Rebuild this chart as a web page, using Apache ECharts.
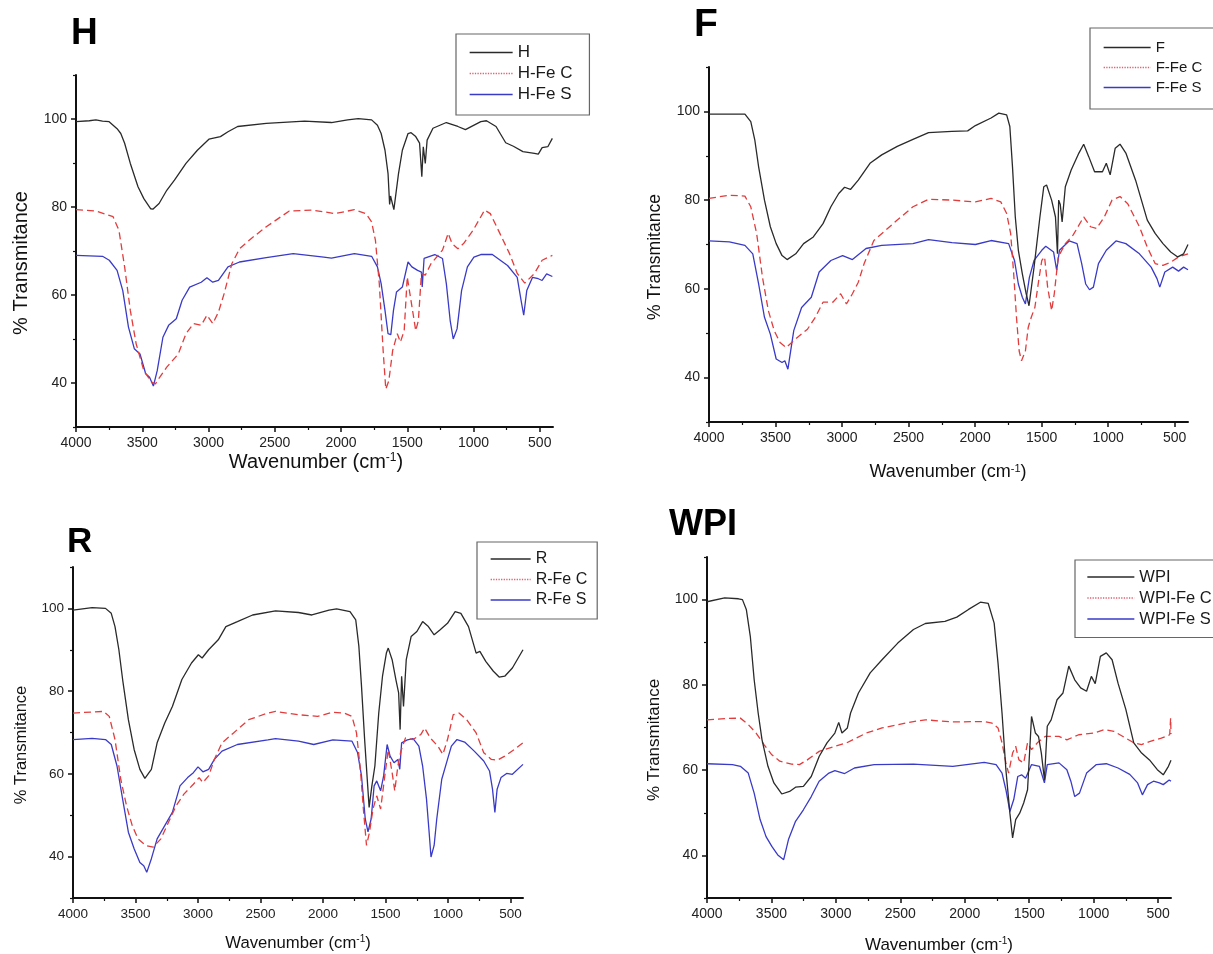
<!DOCTYPE html>
<html>
<head>
<meta charset="utf-8">
<script src="https://cdn.jsdelivr.net/npm/echarts@6/dist/echarts.min.js"></script>
<style>
  html, body { margin: 0; padding: 0; background: #ffffff; }
  #chart { width: 1213px; height: 954px; }
</style>
</head>
<body>
<div id="chart"></div>
<script>
// ---------- Data (wavenumber cm-1, % transmittance) ----------
const xTickLabels = [500, 1000, 1500, 2000, 2500, 3000, 3500, 4000];
const xMinorTicks = [750, 1250, 1750, 2250, 2750, 3250, 3750];
const yTickLabels = [40, 60, 80, 100];
const yMinorTicks = [30, 50, 70, 90, 110];

const H_H = [[4000,99.4],[3900,99.6],[3850,99.8],[3800,99.5],[3750,99.4],[3720,98.6],[3690,97.8],[3662,96.7],[3633,94.5],[3590,89.9],[3532,84.6],[3488,81.9],[3436,79.6],[3420,79.5],[3373,80.8],[3315,83.8],[3257,86.1],[3170,89.9],[3084,92.9],[2997,95.4],[2910,96],[2853,97.1],[2780,98.3],[2564,99],[2275,99.5],[2072,99.2],[1950,99.8],[1870,100.1],[1769,99.8],[1725,98.6],[1697,96.7],[1668,92.9],[1645,87.6],[1633,80.6],[1626,82.5],[1601,79.4],[1566,87.6],[1537,92.9],[1494,96.7],[1471,96.9],[1436,96],[1407,94.5],[1390,86.9],[1379,93.7],[1364,89.9],[1350,95.2],[1306,97.9],[1205,99.2],[1118,98.3],[1061,97.6],[945,99.4],[902,99.6],[830,98.3],[757,94.6],[699,93.8],[627,92.6],[540,92.2],[511,92],[482,93.5],[439,93.7],[405,95.6]];
const H_C = [[4000,79.4],[3850,79.1],[3750,78.1],[3720,77.8],[3676,74.7],[3633,66.4],[3590,56.5],[3546,48.9],[3488,42.8],[3430,40.2],[3400,39.8],[3387,40.5],[3315,43.6],[3228,46.6],[3170,51.2],[3113,53.5],[3055,53.1],[3012,55.4],[2968,53.5],[2925,56.1],[2882,60.3],[2824,67.1],[2766,70.5],[2679,72.8],[2564,75.5],[2390,79.1],[2217,79.3],[2043,78.5],[1899,79.4],[1812,78.5],[1769,76.6],[1740,72.4],[1711,62.6],[1682,47.4],[1662,38.6],[1639,40.5],[1610,47.4],[1575,51.2],[1552,49.3],[1523,51.9],[1500,64.1],[1480,60.3],[1460,56.5],[1436,51.9],[1416,54.2],[1393,64.9],[1364,64.5],[1321,67.1],[1234,70.2],[1191,74],[1162,71.7],[1118,70.5],[1075,71.7],[1003,74.7],[916,79.3],[873,78.5],[801,74],[728,69.4],[670,64.9],[613,62.7],[540,64.9],[482,67.9],[405,69]];
const H_S = [[4000,69],[3800,68.8],[3749,67.9],[3690,65.6],[3647,61],[3604,52.7],[3560,47.8],[3517,46.6],[3474,42.1],[3445,41.3],[3416,39.3],[3387,42.8],[3344,50.4],[3301,53.1],[3243,54.6],[3199,58.8],[3142,61.8],[3055,62.9],[3012,63.9],[2968,62.9],[2925,63.3],[2853,66.4],[2766,67.5],[2564,68.5],[2361,69.4],[2130,68.6],[2072,68.4],[1899,69.4],[1769,68.8],[1725,66.4],[1697,62.6],[1668,56.5],[1645,51.2],[1624,51],[1604,56.5],[1581,60.7],[1537,61.8],[1494,67.5],[1465,66.4],[1422,65.6],[1393,65.2],[1387,61.8],[1373,68.3],[1292,69.2],[1234,68.3],[1205,62.6],[1176,54.2],[1153,50],[1124,52.3],[1090,61],[1046,66.4],[997,68.6],[945,69.2],[858,69.2],[743,66.7],[670,64],[641,58.8],[621,55.4],[598,61],[555,64],[511,63.7],[482,63.3],[448,64.8],[405,64.2]];

const F_F = [[4000,99.4],[3730,99.4],[3686,97.7],[3656,93.6],[3627,87.5],[3583,80],[3539,74],[3495,70.2],[3451,67.5],[3413,66.6],[3348,67.9],[3289,70.2],[3216,71.7],[3143,74.7],[3084,78.5],[3025,81.5],[2981,82.9],[2937,82.4],[2878,84.5],[2790,88.3],[2702,90.2],[2585,92.1],[2467,93.7],[2350,95.2],[2174,95.5],[2056,95.6],[1998,96.8],[1880,98.5],[1822,99.6],[1763,99.2],[1739,96.6],[1719,87.5],[1698,76.2],[1675,68.7],[1645,63.4],[1616,58.9],[1595,56.2],[1557,64.9],[1513,76.2],[1484,83],[1463,83.4],[1425,80],[1396,76.2],[1381,67.9],[1372,80],[1360,79],[1346,75.1],[1322,83],[1278,86.8],[1220,90.6],[1184,92.6],[1146,89.8],[1102,86.4],[1043,86.4],[1014,88.3],[985,85.7],[947,91.7],[911,92.6],[867,90.6],[794,84.5],[706,75.5],[647,72.5],[588,70.2],[530,68.3],[477,67.2],[433,67.9],[400,70]];
const F_C = [[4000,80.4],[3847,81.1],[3730,80.9],[3686,78.5],[3642,72.5],[3598,62.6],[3554,55.1],[3510,50.6],[3466,47.9],[3420,46.8],[3334,49.1],[3260,50.9],[3201,53.6],[3143,57],[3069,57],[3011,58.9],[2967,56.6],[2922,58.9],[2878,61.5],[2834,65.7],[2761,70.9],[2673,73.2],[2585,75.5],[2467,78.5],[2350,80.2],[2174,80],[1998,79.6],[1880,80.4],[1807,79.6],[1763,77],[1733,72.5],[1710,63.4],[1689,53.6],[1669,46],[1651,43.8],[1622,46],[1601,51.3],[1578,53.6],[1551,55.8],[1522,61.9],[1499,66.4],[1478,67.2],[1455,60.4],[1425,55.1],[1405,58.9],[1375,67.2],[1322,70.2],[1264,72.1],[1184,76.2],[1132,74],[1087,73.6],[1029,76.2],[971,80],[911,80.8],[853,79.2],[765,74],[706,69.4],[647,65.7],[588,65.3],[530,66],[471,67.2],[400,67.9]];
const F_S = [[4000,70.8],[3847,70.6],[3730,69.8],[3671,67.9],[3627,61.1],[3583,53.6],[3539,49.8],[3495,44.2],[3451,43.4],[3430,43.8],[3407,41.9],[3363,50.6],[3304,55.8],[3231,58.1],[3172,63.8],[3084,66.4],[2996,67.5],[2922,66.6],[2820,69.1],[2702,69.8],[2467,70.2],[2350,71.1],[2174,70.4],[1998,70],[1880,70.9],[1748,70.2],[1704,66.4],[1675,61.1],[1645,58.1],[1622,56.6],[1592,62.6],[1557,66.4],[1499,68.7],[1469,69.6],[1410,68.3],[1387,64.2],[1366,68.7],[1293,70.8],[1234,70.2],[1199,65.7],[1169,61.1],[1140,59.8],[1111,60.4],[1073,65.7],[1014,68.7],[941,70.8],[867,70.2],[765,67.9],[677,64.9],[633,62.3],[612,60.4],[574,63.8],[515,64.9],[471,64],[433,64.9],[400,64.3]];

const R_R = [[4000,99.6],[3847,100.2],[3740,100],[3694,98.8],[3664,95.6],[3633,90],[3603,82.8],[3557,73.1],[3511,65.9],[3465,61.1],[3425,58.9],[3373,61.1],[3327,67.5],[3266,72.3],[3205,76.3],[3129,82.8],[3052,86.8],[2997,88.8],[2967,88],[2915,90],[2838,92.4],[2777,95.6],[2685,96.8],[2563,98.4],[2380,99.4],[2196,99],[2089,98.4],[2074,98],[1952,99.6],[1891,99.9],[1784,99.2],[1738,97.2],[1713,90.8],[1692,81.2],[1667,68.3],[1646,58.7],[1631,51.9],[1609,57.1],[1585,61.9],[1554,74.7],[1524,83.6],[1493,89.2],[1478,90.4],[1447,87.6],[1417,82.8],[1395,79.6],[1383,70.7],[1371,83.6],[1356,76.3],[1334,87.6],[1295,93.2],[1249,94.4],[1203,96.8],[1157,95.6],[1111,93.6],[1065,94.8],[1004,96.4],[943,99.2],[897,98.8],[836,95.6],[775,89.2],[745,89.6],[698,87.2],[637,84.8],[591,83.4],[546,83.6],[485,85.6],[400,90]];
const R_C = [[4000,74.7],[3755,75.1],[3710,73.9],[3664,68.3],[3618,58.7],[3572,52.3],[3526,47.5],[3480,44.3],[3419,42.7],[3358,42.3],[3297,44.3],[3236,48.3],[3175,52.3],[3113,55.1],[3037,57.5],[2991,59.1],[2961,57.9],[2915,59.5],[2869,63.5],[2808,67.5],[2716,69.9],[2594,73.1],[2441,74.7],[2380,75.1],[2196,74.3],[2043,73.9],[1921,74.9],[1829,74.7],[1768,73.9],[1732,69.9],[1701,61.1],[1677,51.5],[1652,42.7],[1628,45.9],[1600,51.5],[1570,54.7],[1539,51.5],[1509,58.7],[1478,65.9],[1447,60.3],[1426,55.9],[1401,61.9],[1377,65.5],[1340,68.7],[1279,68.3],[1218,69.5],[1187,71.1],[1142,68.7],[1081,66.7],[1041,64.7],[1004,68.3],[958,74.3],[912,74.7],[851,73.1],[775,69.9],[714,65.1],[653,63.5],[607,63.3],[546,64.3],[470,65.9],[400,67.5]];
const R_S = [[4000,68.3],[3847,68.6],[3740,68.3],[3694,67.1],[3648,61.9],[3603,53.9],[3557,45.9],[3511,41.9],[3465,38.6],[3434,37.8],[3410,36.2],[3373,39.5],[3327,44.3],[3266,47.5],[3205,50.7],[3144,57.1],[3083,59.1],[3037,60.3],[3000,61.7],[2961,60.5],[2915,61.1],[2869,63.5],[2808,65.5],[2685,67.1],[2441,68.2],[2380,68.5],[2196,67.9],[2074,67.1],[1921,68.2],[1768,67.9],[1723,65.1],[1692,59.5],[1662,49.1],[1640,46],[1615,49.1],[1591,57.1],[1570,58.3],[1539,55.9],[1515,59.5],[1487,67.1],[1463,64.3],[1432,62.7],[1401,63.5],[1386,61.1],[1371,67.5],[1325,68.2],[1279,68.5],[1233,66.7],[1203,61.9],[1172,53.9],[1151,45.9],[1136,39.9],[1111,42.7],[1090,49.1],[1050,58.7],[1004,63.5],[973,66.7],[928,68.3],[867,67.7],[790,65.5],[714,63.1],[668,60.7],[644,56.3],[625,50.7],[607,56.3],[576,59.1],[531,60.1],[485,59.9],[400,62.3]];

const W_W = [[4000,99.5],[3863,100.4],[3756,100.2],[3725,100],[3695,97.7],[3664,91.4],[3634,81.2],[3603,73.4],[3573,67.1],[3527,60.9],[3481,57],[3420,54.4],[3359,55],[3313,56],[3252,56.2],[3191,58.5],[3130,63.2],[3069,66.4],[3008,68.7],[2978,71.2],[2953,68.7],[2911,69.9],[2886,73.4],[2825,78.1],[2734,82.8],[2642,85.9],[2520,89.8],[2398,93],[2306,94.4],[2154,94.9],[2062,95.9],[1971,97.7],[1879,99.4],[1818,99.1],[1772,94.5],[1742,85.1],[1711,73.4],[1681,60.1],[1650,49.9],[1629,44.1],[1605,48.4],[1574,49.9],[1543,52.3],[1513,55.4],[1482,72.6],[1452,68.7],[1428,67.9],[1406,64],[1382,57.7],[1360,70.3],[1330,71.8],[1284,76.5],[1238,78.1],[1193,84.4],[1147,81.2],[1101,79.3],[1055,78.5],[1018,82],[988,80.3],[948,86.7],[902,87.5],[857,85.9],[811,80.4],[750,74.2],[689,66.4],[628,64],[567,62.4],[506,60.1],[460,58.9],[420,60.9],[400,62.3]];
const W_C = [[4000,71.8],[3863,72.1],[3741,72.2],[3680,70.7],[3619,68.7],[3558,66],[3497,63.6],[3435,62.1],[3344,61.4],[3283,61.3],[3222,62.4],[3130,64.4],[3008,65.6],[2917,66.4],[2764,68.7],[2642,69.9],[2398,71.4],[2306,71.8],[2093,71.3],[1849,71.4],[1788,71],[1742,69.9],[1711,66.4],[1681,61.7],[1660,59.3],[1629,64],[1605,65.6],[1580,62.4],[1543,61.7],[1513,66.4],[1482,64.8],[1437,66.4],[1376,67.9],[1269,67.9],[1208,67.1],[1116,68.3],[994,68.7],[918,69.5],[842,69.1],[750,67.5],[689,66.4],[628,66],[567,66.7],[475,67.5],[410,68.3],[403,72.2],[400,68.5]];
const W_S = [[4000,61.5],[3802,61.3],[3741,60.9],[3680,59.3],[3634,54.6],[3588,48.4],[3542,44.4],[3497,42.1],[3451,40.1],[3405,39],[3368,43.7],[3313,48],[3252,50.7],[3191,53.8],[3130,57.4],[3054,59.3],[3008,59.9],[2932,59.2],[2856,60.5],[2703,61.3],[2398,61.4],[2093,60.9],[1849,61.8],[1757,61.3],[1711,59.3],[1681,55.4],[1650,50.3],[1620,53.1],[1589,58.5],[1559,58.9],[1528,58.1],[1482,61.3],[1421,60.9],[1382,57],[1360,61.3],[1269,61.7],[1208,60.1],[1177,57.4],[1147,53.8],[1110,54.6],[1055,59.3],[979,61.3],[902,61.5],[811,60.5],[720,59],[659,57],[622,54.2],[582,56.6],[536,57.4],[490,57],[460,56.6],[414,57.7],[400,57.4]];

// ---------- Layout / style ----------
const FONT = "'Liberation Sans', Arial, Helvetica, sans-serif";
const BLACK = '#2a2a2a', RED = '#e23c3c', BLUE = '#3a3ac8';

const panels = [
  { names: ['H', 'H-Fe C', 'H-Fe S'], data: [H_H, H_C, H_S],
    grid: { left: 76, top: 75, width: 477, height: 352 }, tickFont: 14,
    legend: { left: 456, top: 34, font: 17, gap: 4, w: 43, pad: [10, 17, 12, 13] },
    title: { text: 'H', x: 71, y: 33.5, size: 37 },
    yName: { x: 21, y: 263, size: 20 }, xName: { x: 316, y: 462, size: 20 } },
  { names: ['F', 'F-Fe C', 'F-Fe S'], data: [F_F, F_C, F_S],
    grid: { left: 709, top: 67, width: 479, height: 355 }, tickFont: 14,
    legend: { left: 1090, top: 28, font: 15, gap: 5, w: 47, pad: [12, 15, 14, 13] },
    title: { text: 'F', x: 694, y: 25.5, size: 39 },
    yName: { x: 655, y: 257, size: 17.5 }, xName: { x: 948, y: 472, size: 18 } },
  { names: ['R', 'R-Fe C', 'R-Fe S'], data: [R_R, R_C, R_S],
    grid: { left: 73, top: 567, width: 450, height: 331 }, tickFont: 13.5,
    legend: { left: 477, top: 542, font: 16, gap: 4.5, w: 40, pad: [9, 10, 11, 13] },
    title: { text: 'R', x: 67, y: 542.5, size: 35 },
    yName: { x: 21, y: 745, size: 16.5 }, xName: { x: 298, y: 943, size: 16.7 } },
  { names: ['WPI', 'WPI-Fe C', 'WPI-Fe S'], data: [W_W, W_C, W_S],
    grid: { left: 707, top: 557, width: 464, height: 341 }, tickFont: 14,
    legend: { left: 1075, top: 560, font: 16.5, gap: 4, w: 47, pad: [8.5, 10, 10, 11.7] },
    title: { text: 'WPI', x: 669, y: 525, size: 36 },
    yName: { x: 654, y: 740, size: 17 }, xName: { x: 939, y: 945, size: 17 } }
];

const colors = [BLACK, RED, BLUE];
const lineTypes = ['solid', [7, 4], 'solid'];
const legendTypes = ['solid', 'dotted', 'solid'];
const plain = v => String(v);

const option = {
  animation: false,
  backgroundColor: '#ffffff',
  grid: [], xAxis: [], yAxis: [], series: [], legend: [], graphic: []
};

panels.forEach((p, i) => {
  option.grid.push(Object.assign({ containLabel: false }, p.grid));
  const axisLine = { show: true, onZero: false, lineStyle: { color: '#111', width: 2 } };
  option.xAxis.push({
    type: 'value', gridIndex: i, min: 400, max: 4000, inverse: true, position: 'bottom',
    axisLine: axisLine,
    axisTick: { show: true, customValues: xTickLabels, length: 5, lineStyle: { color: '#111', width: 1.5 } },
    axisLabel: { customValues: xTickLabels, formatter: plain, fontSize: p.tickFont, fontFamily: FONT, color: '#222', margin: 9 },
    splitLine: { show: false }
  });
  option.xAxis.push({
    type: 'value', gridIndex: i, min: 400, max: 4000, inverse: true, position: 'bottom',
    axisLine: { show: false },
    axisTick: { show: true, customValues: xMinorTicks, length: 3, lineStyle: { color: '#111', width: 1.2 } },
    axisLabel: { show: false }, splitLine: { show: false }
  });
  option.yAxis.push({
    type: 'value', gridIndex: i, min: 30, max: 110, position: 'left',
    axisLine: axisLine,
    axisTick: { show: true, customValues: yTickLabels, length: 5, lineStyle: { color: '#111', width: 1.5 } },
    axisLabel: { customValues: yTickLabels, formatter: plain, fontSize: p.tickFont, fontFamily: FONT, color: '#222', margin: 9 },
    splitLine: { show: false }
  });
  option.yAxis.push({
    type: 'value', gridIndex: i, min: 30, max: 110, position: 'left',
    axisLine: { show: false },
    axisTick: { show: true, customValues: yMinorTicks, length: 3, lineStyle: { color: '#111', width: 1.2 } },
    axisLabel: { show: false }, splitLine: { show: false }
  });

  p.names.forEach((name, k) => {
    option.series.push({
      name: name, type: 'line', xAxisIndex: 2 * i, yAxisIndex: 2 * i,
      data: p.data[k], symbol: 'none', showSymbol: false, smooth: false,
      lineStyle: { color: colors[k], width: 1.3, type: lineTypes[k] },
      itemStyle: { color: colors[k] },
      z: 3 - k
    });
  });

  const L = p.legend;
  option.legend.push({
    orient: 'vertical', left: L.left, top: L.top, padding: L.pad,
    itemGap: L.gap, itemWidth: L.w, itemHeight: L.font,
    borderColor: '#666', borderWidth: 1.2, backgroundColor: '#fff',
    textStyle: { fontSize: L.font, fontFamily: FONT, color: '#1a1a1a' },
    selectedMode: false,
    data: p.names.map((n, k) => ({
      name: n,
      itemStyle: { opacity: 0 },
      lineStyle: { color: k === 1 ? '#e06070' : colors[k], width: 1.3, type: legendTypes[k], opacity: 1 }
    }))
  });

  option.graphic.push({
    type: 'text', x: p.title.x, y: p.title.y,
    style: { text: p.title.text, font: 'bold ' + p.title.size + 'px ' + FONT, fill: '#000',
             textAlign: 'left', textVerticalAlign: 'middle' }
  });
  option.graphic.push({
    type: 'text', x: p.yName.x, y: p.yName.y, rotation: Math.PI / 2,
    style: { text: '% Transmitance', font: p.yName.size + 'px ' + FONT, fill: '#111',
             textAlign: 'center', textVerticalAlign: 'middle' }
  });
  option.graphic.push({
    type: 'text', x: p.xName.x, y: p.xName.y,
    style: {
      text: '{a|Wavenumber (cm}{s|-1}{a|)}',
      textAlign: 'center', textVerticalAlign: 'middle',
      rich: {
        a: { fontSize: p.xName.size, fontFamily: FONT, fill: '#111' },
        s: { fontSize: Math.round(p.xName.size * 0.6), fontFamily: FONT, fill: '#111', verticalAlign: 'top' }
      }
    }
  });
});

const chart = echarts.init(document.getElementById('chart'), null, { renderer: 'canvas' });
chart.setOption(option);
</script>
</body>
</html>
